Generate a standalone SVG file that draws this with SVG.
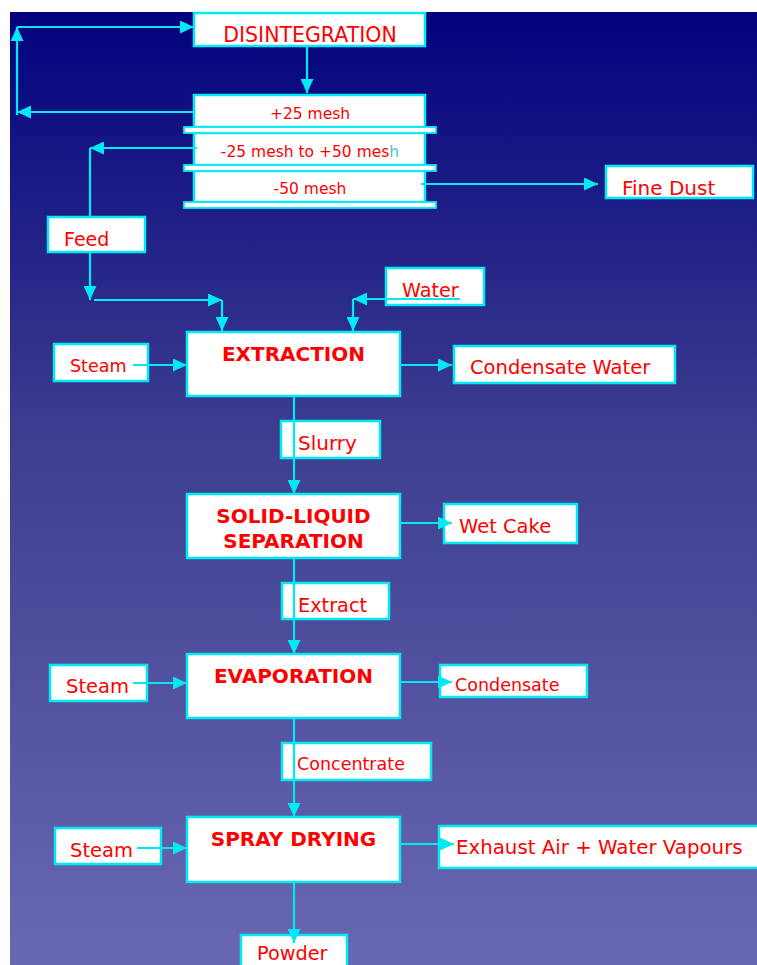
<svg xmlns="http://www.w3.org/2000/svg" width="757" height="965" viewBox="0 0 757 965">
<defs>
<linearGradient id="bg" x1="0" y1="12" x2="0" y2="965" gradientUnits="userSpaceOnUse">
<stop offset="0" stop-color="#02027e"/>
<stop offset="0.45" stop-color="#3e3e90"/>
<stop offset="1" stop-color="#6868b2"/>
</linearGradient>
<marker id="ah" markerUnits="userSpaceOnUse" markerWidth="14" markerHeight="13" refX="14" refY="6.5" orient="auto">
<path d="M0,0 L14,6.5 L0,13 Z" fill="#00eaf4"/>
</marker>
<style>
.box{fill:#ffffff;stroke:#00eaf4;stroke-width:2.5}
.bar{fill:#ffffff;stroke:#00eaf4;stroke-width:1.8}
.t{font-family:"DejaVu Sans",Verdana,sans-serif;fill:#ff0000;font-size:19.5px}
.m{font-family:"DejaVu Sans",Verdana,sans-serif;fill:#ff0000;font-size:15.5px;text-anchor:middle}
.b{font-family:"DejaVu Sans",Verdana,sans-serif;fill:#ff0000;font-size:20px;font-weight:bold;text-anchor:middle}
.c line{stroke:#00eaf4;stroke-width:2.2;fill:none}
.c .a{marker-end:url(#ah)}
</style>
</defs>
<rect x="0" y="0" width="757" height="965" fill="#ffffff"/>
<rect x="10" y="12" width="747" height="953" fill="url(#bg)"/>

<g id="disintegration">
<rect class="box" x="194" y="13" width="231" height="33"/>
<text class="t" x="310" y="42" text-anchor="middle" style="font-size:20.5px">DISINTEGRATION</text>
</g>
<g id="screens">
<rect class="box" x="194" y="95" width="231" height="32"/>
<rect class="box" x="194" y="133" width="231" height="32"/>
<rect class="box" x="194" y="171" width="231" height="31"/>
<rect class="bar" x="184" y="127" width="252" height="6"/>
<rect class="bar" x="184" y="165" width="252" height="6"/>
<rect class="bar" x="184" y="202" width="252" height="6"/>
<text class="m" x="310" y="119">+25 mesh</text>
<text class="m" x="310" y="157">-25 mesh to +50 mes<tspan fill="#40c8c8">h</tspan></text>
<text class="m" x="310" y="194">-50 mesh</text>
</g>
<g id="fine-dust">
<rect class="box" x="606" y="166" width="147" height="32"/>
<text class="t" x="622" y="195" style="font-size:20px">Fine Dust</text>
</g>
<g id="feed">
<rect class="box" x="48" y="217" width="97" height="35"/>
<text class="t" x="64" y="246" style="font-size:19px">Feed</text>
</g>
<g id="water">
<rect class="box" x="386" y="268" width="98" height="37"/>
<text class="t" x="402" y="297" style="font-size:19.2px">Water</text>
</g>
<g id="steam1">
<rect class="box" x="54" y="344" width="94" height="37"/>
<text class="t" x="70" y="372" style="font-size:17.5px">Steam</text>
</g>
<g id="extraction">
<rect class="box" x="187" y="332" width="213" height="64"/>
<text class="b" x="293.5" y="361">EXTRACTION</text>
</g>
<g id="condensate-water">
<rect class="box" x="454" y="346" width="221" height="37"/>
<text class="t" x="470" y="374">Condensate Water</text>
</g>
<g id="slurry">
<rect class="box" x="281" y="421" width="99" height="37"/>
<text class="t" x="298" y="450" style="font-size:20px">Slurry</text>
</g>
<g id="solid-liquid">
<rect class="box" x="187" y="494" width="213" height="64"/>
<text class="b" x="293.5" y="523">SOLID-LIQUID</text>
<text class="b" x="293.5" y="548">SEPARATION</text>
</g>
<g id="wet-cake">
<rect class="box" x="444" y="504" width="133" height="39"/>
<text class="t" x="459" y="533">Wet Cake</text>
</g>
<g id="extract">
<rect class="box" x="282" y="583" width="107" height="36"/>
<text class="t" x="298" y="612" style="font-size:19.3px">Extract</text>
</g>
<g id="evaporation">
<rect class="box" x="187" y="654" width="213" height="64"/>
<text class="b" x="293.5" y="683">EVAPORATION</text>
</g>
<g id="steam2">
<rect class="box" x="50" y="665" width="97" height="36"/>
<text class="t" x="66" y="693">Steam</text>
</g>
<g id="condensate">
<rect class="box" x="440" y="665" width="147" height="32"/>
<text class="t" x="455" y="691" style="font-size:17.5px">Condensate</text>
</g>
<g id="concentrate">
<rect class="box" x="282" y="743" width="149" height="37"/>
<text class="t" x="297" y="770" style="font-size:17.5px">Concentrate</text>
</g>
<g id="spray-drying">
<rect class="box" x="187" y="817" width="213" height="65"/>
<text class="b" x="293.5" y="846">SPRAY DRYING</text>
</g>
<g id="steam3">
<rect class="box" x="55" y="828" width="106" height="36"/>
<text class="t" x="70" y="857">Steam</text>
</g>
<g id="exhaust">
<rect class="box" x="439" y="826" width="325" height="42"/>
<text class="t" x="456" y="854" style="font-size:19.8px">Exhaust Air + Water Vapours</text>
</g>
<g id="powder">
<rect class="box" x="241" y="935" width="106" height="40"/>
<text class="t" x="257" y="960" style="font-size:19.3px">Powder</text>
</g>

<g id="connectors" class="c">
<line class="a" x1="307" y1="46" x2="307" y2="93"/>
<line class="a" x1="194" y1="112" x2="17" y2="112"/>
<line class="a" x1="17" y1="115" x2="17" y2="27"/>
<line class="a" x1="17" y1="27" x2="194" y2="27"/>
<line class="a" x1="197" y1="148" x2="90" y2="148"/>
<line x1="90" y1="148" x2="90" y2="217"/>
<line class="a" x1="421" y1="184" x2="598" y2="184"/>
<line class="a" x1="90" y1="252" x2="90" y2="300"/>
<line class="a" x1="94" y1="300" x2="222" y2="300"/>
<line class="a" x1="222" y1="300" x2="222" y2="331"/>
<line class="a" x1="460" y1="299" x2="353" y2="299"/>
<line class="a" x1="353" y1="299" x2="353" y2="331"/>
<line class="a" x1="133" y1="365" x2="187" y2="365"/>
<line class="a" x1="400" y1="365" x2="452" y2="365"/>
<line class="a" x1="294" y1="396" x2="294" y2="494"/>
<line class="a" x1="400" y1="523" x2="452" y2="523"/>
<line class="a" x1="294" y1="558" x2="294" y2="654"/>
<line class="a" x1="133" y1="683" x2="187" y2="683"/>
<line class="a" x1="400" y1="682" x2="452" y2="682"/>
<line class="a" x1="294" y1="718" x2="294" y2="817"/>
<line class="a" x1="137" y1="848" x2="187" y2="848"/>
<line class="a" x1="400" y1="844" x2="454" y2="844"/>
<line class="a" x1="294" y1="882" x2="294" y2="943"/>
</g>
</svg>
